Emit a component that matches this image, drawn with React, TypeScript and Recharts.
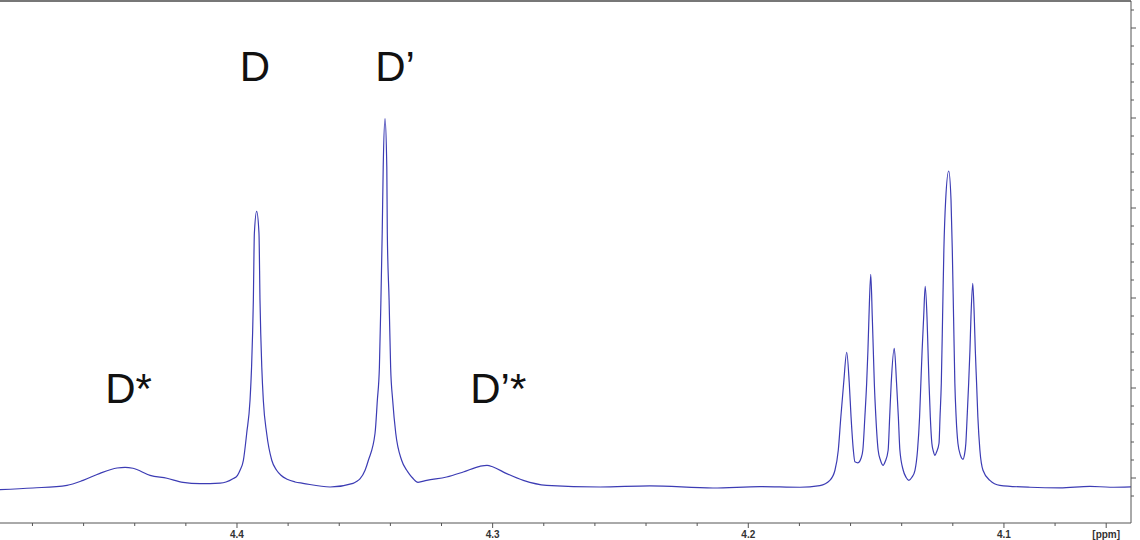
import React from "react";
import {
  LineChart,
  Line,
  XAxis,
  YAxis,
  ReferenceLine,
  ReferenceDot,
} from "recharts";

// chemical shift (ppm) of each traced point, high -> low
const ppm = [
  4.4927, 4.4798, 4.4665, 4.4602, 4.4536, 4.4469, 4.4438, 4.4407, 4.434, 4.4274,
  4.4211, 4.4145, 4.4066, 4.4043, 4.4016, 4.3998, 4.3988, 4.3975, 4.3962, 4.3949,
  4.3943, 4.3936, 4.3932, 4.3923, 4.3914, 4.391, 4.3903, 4.3897, 4.3884, 4.3864,
  4.3845, 4.3828, 4.3804, 4.3773, 4.3742, 4.3636, 4.3546, 4.3531, 4.3519, 4.3499,
  4.3486, 4.346, 4.3451, 4.3443, 4.3437, 4.3432, 4.3428, 4.3421, 4.3414, 4.3412,
  4.3405, 4.3399, 4.3391, 4.3379, 4.3356, 4.3336, 4.3325, 4.3312, 4.3292, 4.3258,
  4.318, 4.3115, 4.305, 4.3022, 4.2998, 4.2945, 4.288, 4.2789, 4.258, 4.2385,
  4.2138, 4.1954, 4.1798, 4.172, 4.1681, 4.1661, 4.1648, 4.1638, 4.1627, 4.1615,
  4.1605, 4.1598, 4.1589, 4.1583, 4.1571, 4.1559, 4.1552, 4.1544, 4.1537, 4.1532,
  4.1528, 4.1521, 4.1515, 4.1511, 4.1507, 4.1501, 4.1492, 4.1483, 4.1473, 4.1464,
  4.1453, 4.1447, 4.1441, 4.1429, 4.142, 4.1413, 4.1407, 4.1394, 4.1383, 4.1372,
  4.136, 4.1348, 4.1338, 4.133, 4.1325, 4.132, 4.1314, 4.1308, 4.1301, 4.1297,
  4.1293, 4.1288, 4.1282, 4.1276, 4.127, 4.1264, 4.1254, 4.125, 4.1245, 4.124,
  4.1235, 4.1228, 4.1216, 4.1207, 4.1202, 4.1197, 4.1192, 4.1187, 4.118, 4.117,
  4.116, 4.1155, 4.1149, 4.1144, 4.1138, 4.1133, 4.1129, 4.1122, 4.1116, 4.1112,
  4.1107, 4.1102, 4.1094, 4.1082, 4.1055, 4.1016, 4.0898, 4.0781, 4.0664, 4.0585,
  4.0503,
];

// intensity (arbitrary units) at each point above
const intensity = [
  -0.129, -0.111, -0.081, -0.026, 0.052, 0.111, 0.119, 0.108, 0.03, -0.003,
  -0.048, -0.062, -0.056, -0.045, -0.009, 0.03, 0.086, 0.197, 0.497, 0.863,
  1.23, 1.974, 2.719, 2.963, 2.719, 1.974, 1.23, 0.863, 0.497, 0.197,
  0.086, 0.03, -0.014, -0.044, -0.059, -0.1, -0.059, -0.037, -0.01, 0.086,
  0.197, 0.497, 0.863, 1.23, 1.974, 2.719, 3.456, 3.993, 3.456, 2.719,
  1.974, 1.23, 0.863, 0.497, 0.197, 0.086, 0.041, -0.003, -0.048, -0.026,
  0.011, 0.067, 0.13, 0.141, 0.122, 0.049, -0.026, -0.081, -0.1, -0.087,
  -0.111, -0.096, -0.103, -0.084, -0.026, 0.086, 0.308, 0.678, 1.052, 1.397,
  1.052, 0.678, 0.308, 0.18, 0.169, 0.219, 0.308, 0.678, 1.052, 1.419,
  1.789, 2.263, 1.789, 1.419, 1.052, 0.678, 0.308, 0.197, 0.141, 0.186,
  0.308, 0.678, 1.052, 1.441, 1.052, 0.678, 0.308, 0.086, 0.008, -0.026,
  0.008, 0.086, 0.308, 0.678, 1.052, 1.419, 1.789, 2.13, 1.789, 1.419,
  1.052, 0.678, 0.386, 0.297, 0.252, 0.286, 0.386, 0.678, 1.052, 1.789,
  2.53, 3.086, 3.411, 3.086, 2.53, 1.789, 1.052, 0.678, 0.386, 0.252,
  0.208, 0.25, 0.386, 0.678, 1.052, 1.419, 1.789, 2.163, 1.789, 1.419,
  1.052, 0.678, 0.308, 0.086, -0.026, -0.081, -0.103, -0.109, -0.092, -0.103,
  -0.098,
];

const xTicks = [
  4.06, 4.08, 4.1, 4.12, 4.14, 4.16, 4.18, 4.2, 4.22, 4.24, 4.26,
  4.28, 4.3, 4.32, 4.34, 4.36, 4.38, 4.4, 4.42, 4.44, 4.46, 4.48,
];
const xTickLabels = [
  "[ppm]", "", "4.1", "", "", "", "", "4.2", "", "", "",
  "", "4.3", "", "", "", "", "4.4", "", "", "", "",
];

const yTicks = [
  -0.2, 0, 0.2, 0.4, 0.6, 0.8, 1, 1.2, 1.4, 1.6, 1.8, 2, 2.2, 2.4,
  2.6, 2.8, 3, 3.2, 3.4, 3.6, 3.8, 4, 4.2, 4.4, 4.6, 4.8, 5, 5.2,
];

// peak labels
const peakNames = ["D*", "D", "D\u2019", "D\u2019*"];
const peakLabelPpm = [4.4424, 4.393, 4.3382, 4.2978];
const peakLabelY = [0.997, 4.574, 4.574, 0.997];

const data = ppm.map((p, i) => ({ ppm: p, v: intensity[i] }));

const axisColor = "#555";

function XTick(props: any) {
  const { x, y, index } = props;
  const label = xTickLabels[index];
  return (
    <g>
      <line x1={x} y1={y} x2={x} y2={y + (label ? 5 : 3)} stroke={axisColor} />
      {label && (
        <text
          x={x}
          y={y + 15}
          textAnchor="middle"
          fontSize={10}
          fontWeight="bold"
          fontFamily="Liberation Sans, Arial, sans-serif"
          fill="#333"
        >
          {label}
        </text>
      )}
    </g>
  );
}

function YTick(props: any) {
  const { x, y, payload } = props;
  const v = payload.value;
  const major = Math.abs(v - Math.round(v)) < 1e-6;
  return <line x1={x} y1={y} x2={x + (major ? 5 : 3)} y2={y} stroke={axisColor} />;
}

export default function App() {
  return (
    <div style={{ position: "absolute", left: 0, top: 0, background: "#fff" }}>
      <LineChart
        width={1140}
        height={540}
        data={data}
        margin={{ top: 1, right: 0, left: 0, bottom: 0 }}
      >
        <XAxis
          dataKey="ppm"
          type="number"
          domain={[4.0503, 4.4927]}
          reversed
          allowDataOverflow
          ticks={xTicks}
          interval={0}
          height={17}
          tickSize={0}
          tickMargin={0}
          tickLine={false}
          axisLine={{ stroke: axisColor }}
          tick={<XTick />}
        />
        <YAxis
          orientation="right"
          type="number"
          domain={[-0.5, 5.3]}
          allowDataOverflow
          ticks={yTicks}
          interval={0}
          width={9}
          tickSize={0}
          tickMargin={0}
          tickLine={false}
          axisLine={{ stroke: axisColor }}
          tick={<YTick />}
        />
        <ReferenceLine y={5.3} stroke="#777" strokeWidth={2} ifOverflow="visible" />
        <Line
          type="monotone"
          dataKey="v"
          stroke="#3c3cb4"
          strokeWidth={1.2}
          dot={false}
          isAnimationActive={false}
        />
        {peakNames.map((name, i) => (
          <ReferenceDot
            key={name}
            x={peakLabelPpm[i]}
            y={peakLabelY[i]}
            r={0}
            fill="none"
            stroke="none"
            label={{
              value: name,
              position: "center",
              fontSize: 42,
              fill: "#111",
              fontFamily: "Liberation Sans, Arial, sans-serif",
            }}
          />
        ))}
      </LineChart>
    </div>
  );
}
